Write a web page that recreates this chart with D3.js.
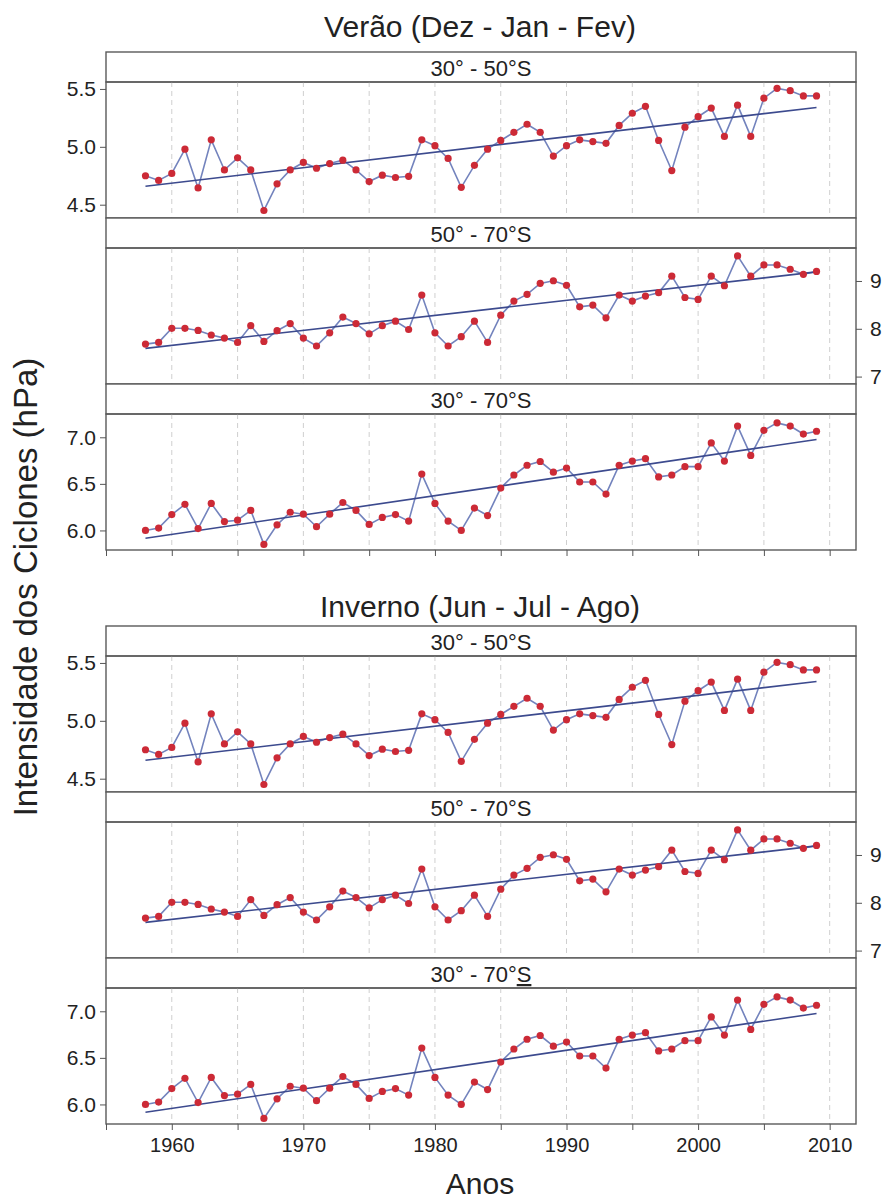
<!DOCTYPE html>
<html>
<head>
<meta charset="utf-8">
<script src="https://cdn.jsdelivr.net/npm/d3@7"></script>
<style>
  body { margin: 0; background: #fff; }
  svg { display: block; font-family: "Liberation Sans", Arial, sans-serif; }
</style>
</head>
<body>
<svg id="chart" width="887" height="1202"></svg>
<script>
// anos da serie
const years = d3.range(1958, 2010);

// intensidade media dos ciclones (hPa) por faixa de latitude
const int30_50 = [4.75, 4.71, 4.77, 4.98, 4.645, 5.06, 4.80, 4.905, 4.80, 4.45, 4.68, 4.80,
  4.865, 4.815, 4.855, 4.885, 4.80, 4.70, 4.755, 4.735, 4.745, 5.06,
  5.01, 4.90, 4.65, 4.84, 4.98, 5.055, 5.125, 5.195, 5.125, 4.92,
  5.01, 5.06, 5.045, 5.03, 5.185, 5.29, 5.35, 5.055, 4.795, 5.17,
  5.26, 5.335, 5.09, 5.36, 5.09, 5.42, 5.505, 5.485, 5.44, 5.44];
const int50_70 = [7.68, 7.715, 8.01, 8.01, 7.965, 7.87, 7.805, 7.715, 8.065, 7.735, 7.96, 8.11,
  7.805, 7.64, 7.915, 8.245, 8.11, 7.895, 8.065, 8.16, 7.985, 8.705,
  7.915, 7.64, 7.835, 8.16, 7.715, 8.285, 8.58, 8.72, 8.95, 9.005,
  8.91, 8.46, 8.495, 8.23, 8.705, 8.58, 8.685, 8.755, 9.10, 8.655,
  8.615, 9.10, 8.90, 9.525, 9.10, 9.335, 9.335, 9.245, 9.14, 9.20];
const int30_70 = [6.00, 6.025, 6.17, 6.28, 6.02, 6.29, 6.095, 6.11, 6.215, 5.85, 6.06, 6.195,
  6.175, 6.04, 6.175, 6.30, 6.215, 6.065, 6.14, 6.17, 6.10, 6.605,
  6.29, 6.10, 6.00, 6.24, 6.16, 6.455, 6.595, 6.70, 6.74, 6.625,
  6.67, 6.52, 6.52, 6.39, 6.70, 6.745, 6.77, 6.575, 6.595, 6.685,
  6.685, 6.94, 6.745, 7.12, 6.805, 7.075, 7.155, 7.12, 7.035, 7.065];

// reta de tendencia (valor em 1958 e em 2009)
const trendYears = [1958, 2009];
const trend30_50 = [4.66, 5.34];
const trend50_70 = [7.59, 9.19];
const trend30_70 = [5.916, 6.977];

// eixos
const xDomain = [1955, 2012];
const xTicks = [1955, 1960, 1965, 1970, 1975, 1980, 1985, 1990, 1995, 2000, 2005, 2010];
const ticks30_50 = [4.5, 5.0, 5.5];
const ticks50_70 = [7, 8, 9];
const ticks30_70 = [6.0, 6.5, 7.0];

const seasonTitles = ["Verão (Dez - Jan - Fev)", "Inverno (Jun - Jul - Ago)"];
const regionLabels = ["30° - 50°S", "50° - 70°S", "30° - 70°S"];

const svg = d3.select("#chart");
const left = 106, right = 856;
const stripH = 30, panelH = 136;

const x = d3.scaleLinear().domain(xDomain).range([left, right]);

const regions = [
  {label: regionLabels[0], values: int30_50, trend: trend30_50, domain: [4.385, 5.56], ticks: ticks30_50, side: "left", fmt: ".1f"},
  {label: regionLabels[1], values: int50_70, trend: trend50_70, domain: [6.845, 9.69], ticks: ticks50_70, side: "right", fmt: "d"},
  {label: regionLabels[2], values: int30_70, trend: trend30_70, domain: [5.79, 7.25], ticks: ticks30_70, side: "left", fmt: ".1f"}
];

const seasons = [
  {title: seasonTitles[0], top: 52, titleY: 37, labels: false},
  {title: seasonTitles[1], top: 626, titleY: 617, labels: true}
];

seasons.forEach((season, si) => {
  svg.append("text")
    .attr("x", 480).attr("y", season.titleY)
    .attr("text-anchor", "middle")
    .style("font-size", "30px").style("fill", "#222")
    .text(season.title);

  regions.forEach((reg, ri) => {
    const stripTop = season.top + ri * (stripH + panelH);
    const pTop = stripTop + stripH;
    const pBot = pTop + panelH;
    const y = d3.scaleLinear().domain(reg.domain).range([pBot, pTop]);
    const g = svg.append("g");

    // faixa do titulo
    g.append("rect")
      .attr("x", left).attr("y", stripTop)
      .attr("width", right - left).attr("height", stripH)
      .attr("fill", "#fff").attr("stroke", "#5a5a5a").attr("stroke-width", 1.4);
    const lbl = g.append("text")
      .attr("x", 481).attr("y", stripTop + 24)
      .attr("text-anchor", "middle")
      .style("font-size", "22px").style("fill", "#222");
    if (si === 1 && ri === 2) {
      lbl.append("tspan").text(reg.label.slice(0, -1));
      lbl.append("tspan").style("text-decoration", "underline").text(reg.label.slice(-1));
    } else {
      lbl.text(reg.label);
    }

    // grade vertical tracejada
    g.append("g").selectAll("line")
      .data(xTicks.filter(d => d > xDomain[0]))
      .join("line")
      .attr("x1", d => x(d)).attr("x2", d => x(d))
      .attr("y1", pTop).attr("y2", pBot)
      .attr("stroke", "#cfcfcf").attr("stroke-width", 1)
      .attr("stroke-dasharray", "5,4");

    // serie
    const line = d3.line().x((d, i) => x(years[i])).y(d => y(d));
    g.append("path")
      .datum(reg.values)
      .attr("d", line)
      .attr("fill", "none").attr("stroke", "#7383bd").attr("stroke-width", 1.6);

    // tendencia
    const tline = d3.line().x((d, i) => x(trendYears[i])).y(d => y(d));
    g.append("path")
      .datum(reg.trend)
      .attr("d", tline)
      .attr("fill", "none").attr("stroke", "#3c4a8e").attr("stroke-width", 1.6);

    g.append("g").selectAll("circle")
      .data(reg.values)
      .join("circle")
      .attr("cx", (d, i) => x(years[i])).attr("cy", d => y(d))
      .attr("r", 3.6)
      .attr("fill", "#cc2a36");

    // moldura
    g.append("rect")
      .attr("x", left).attr("y", pTop)
      .attr("width", right - left).attr("height", panelH)
      .attr("fill", "none").attr("stroke", "#5a5a5a").attr("stroke-width", 1.4);

    // eixo y
    const axis = (reg.side === "left" ? d3.axisLeft(y) : d3.axisRight(y))
      .tickValues(reg.ticks).tickSize(6).tickPadding(reg.side === "left" ? 4 : 8)
      .tickFormat(d3.format(reg.fmt));
    const ax = g.append("g")
      .attr("transform", `translate(${reg.side === "left" ? left : right},0)`)
      .call(axis);
    ax.select(".domain").remove();
    ax.selectAll("line").attr("stroke", "#555");
    ax.selectAll("text").style("font-size", "21px").style("font-family", "Liberation Sans, Arial, sans-serif").attr("fill", "#222");

    // eixo x so no ultimo painel
    if (ri === 2) {
      const xa = g.append("g")
        .attr("transform", `translate(0,${pBot})`)
        .call(d3.axisBottom(x).tickValues(xTicks).tickSize(6).tickPadding(8)
          .tickFormat(d => (season.labels && d % 10 === 0) ? d : ""));
      xa.select(".domain").remove();
      xa.selectAll("line").attr("stroke", "#555");
      xa.selectAll("text").style("font-size", "20px").style("font-family", "Liberation Sans, Arial, sans-serif").attr("fill", "#222");
    }
  });
});

// titulos dos eixos
svg.append("text")
  .attr("transform", "translate(37,587) rotate(-90)")
  .attr("text-anchor", "middle")
  .style("font-size", "33px").style("fill", "#222")
  .text("Intensidade dos Ciclones (hPa)");

svg.append("text")
  .attr("x", 480).attr("y", 1194)
  .attr("text-anchor", "middle")
  .style("font-size", "30px").style("fill", "#222")
  .text("Anos");
</script>
</body>
</html>
